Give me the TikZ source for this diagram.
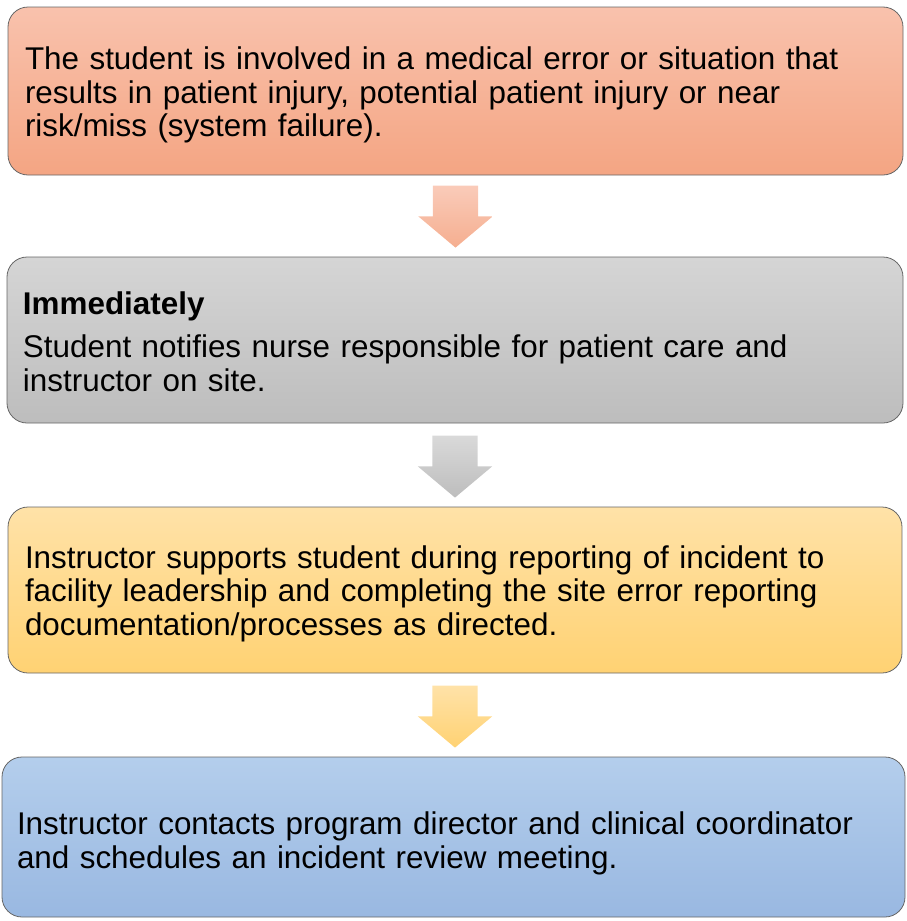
\documentclass[tikz,border=0pt]{standalone}
\usepackage{fontspec}
\setmainfont{Liberation Sans}
\usetikzlibrary{shapes.arrows, calc}

\definecolor{salmontop}{HTML}{F9C2AD}
\definecolor{salmonbot}{HTML}{F4A583}
\definecolor{greytop}{HTML}{D5D5D5}
\definecolor{greybot}{HTML}{BDBDBD}
\definecolor{ambertop}{HTML}{FFE2A8}
\definecolor{amberbot}{HTML}{FFD273}
\definecolor{skytop}{HTML}{B4CEEC}
\definecolor{skybot}{HTML}{99B8E1}

\begin{document}
\begin{tikzpicture}[x = 1pt, y = -1pt,
		box/.style = {draw = gray!80!black, line width = 0.8pt, rounded corners = 20pt,
			inner ysep = 0pt, align = left, font = \fontsize{31.4}{33.5}\selectfont},
		downarrow/.style = {single arrow, rotate = -90, anchor = tail, inner xsep = 0pt,
			inner ysep = 22.5pt, minimum height = 62pt,
			single arrow head extend = 14.5pt, single arrow tip angle = 100}]
	\useasboundingbox (0,0) rectangle (906,921);
	
	\node [box, top color = salmontop, bottom color = salmonbot, inner xsep = 17pt,
	minimum width = 895pt, minimum height = 168pt, text width = 861pt] (err) at (455.5,91)
	{\rule{0pt}{31pt}The student is involved in a medical error or situation that\\
		results in patient injury, potential patient injury or near\\
		risk/miss (system failure).};
	
	\node [box, top color = greytop, bottom color = greybot, inner xsep = 16pt,
	minimum width = 896pt, minimum height = 166pt, text width = 864pt] (notify) at (455,340)
	{\rule{0pt}{26pt}\textbf{Immediately}\\[10pt]
		Student notifies nurse responsible for patient care and\\
		instructor on site.};
	
	\node [box, top color = ambertop, bottom color = amberbot, inner xsep = 17pt,
	minimum width = 894pt, minimum height = 166pt, text width = 860pt] (report) at (455,590)
	{\rule{0pt}{30pt}Instructor supports student during reporting of incident to\\
		facility leadership and completing the site error reporting\\
		documentation/processes as directed.};
	
	\node [box, top color = skytop, bottom color = skybot, inner xsep = 15pt,
	minimum width = 903pt, minimum height = 160pt, text width = 873pt] (review) at (453.5,837)
	{\rule{0pt}{35pt}Instructor contacts program director and clinical coordinator\\
		and schedules an incident review meeting.};
	
	% block arrows between the steps
	\node [downarrow, top color = salmontop!85!white, bottom color = salmonbot!90!white]
	(step1) at ($(err.south) + (0,10)$) {};
	\node [downarrow, top color = greytop!90!white, bottom color = greybot]
	(step2) at ($(notify.south) + (0,12)$) {};
	\node [downarrow, top color = ambertop, bottom color = amberbot]
	(step3) at ($(report.south) + (0,12)$) {};
\end{tikzpicture}
\end{document}
